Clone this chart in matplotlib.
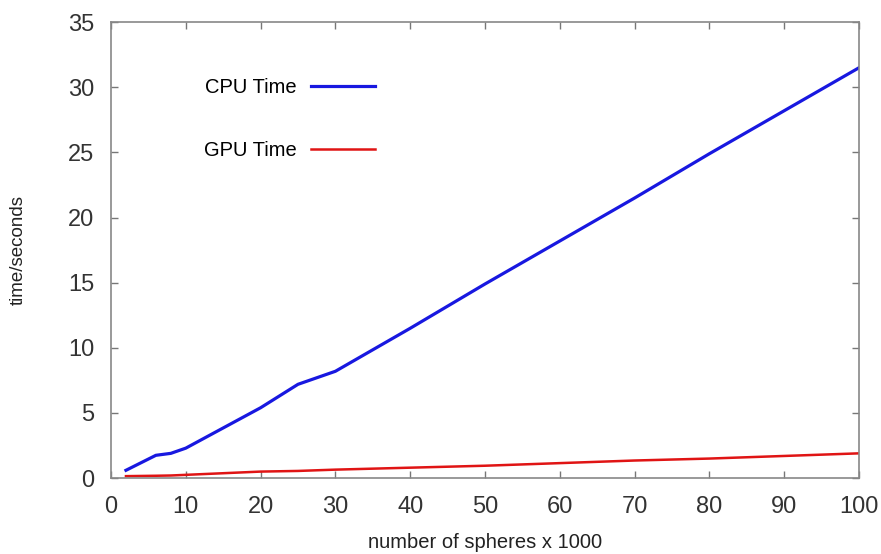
import numpy as np
import matplotlib.pyplot as plt

plt.rcParams['font.family'] = ['Liberation Sans', 'DejaVu Sans']

# data
spheres = [2, 6, 8, 10, 20, 25, 30, 40, 50, 60, 70, 80, 90, 100]
cpu_time = [0.6, 1.75, 1.9, 2.3, 5.4, 7.2, 8.2, 11.5, 14.9, 18.2, 21.5, 24.9, 28.2, 31.5]
gpu_time = [0.15, 0.18, 0.2, 0.25, 0.5, 0.55, 0.65, 0.8, 0.95, 1.15, 1.35, 1.5, 1.7, 1.9]

fig = plt.figure(figsize=(8.81, 5.54), dpi=100)
ax = fig.add_axes([0.126, 0.137, 0.849, 0.823])

ax.plot(spheres, cpu_time, color='#1818e0', lw=2.3, label='CPU Time')
ax.plot(spheres, gpu_time, color='#e01414', lw=1.8, label='GPU Time')

ax.set_xlim(0, 100)
ax.set_ylim(0, 35)
ax.set_xticks(np.arange(0, 101, 10))
ax.set_yticks(np.arange(0, 36, 5))
ax.tick_params(direction='in', top=True, right=True, length=5, width=1,
               color='#777777', labelsize=17, labelcolor='#333333')
ax.tick_params(axis='y', pad=12)
ax.tick_params(axis='x', pad=13)
for s in ax.spines.values():
    s.set_color('#888888')
    s.set_linewidth(1.2)

ax.set_xlabel('number of spheres x 1000', fontsize=14.5, color='#222222')
ax.set_ylabel('time/seconds', fontsize=13.5, color='#222222')
ax.xaxis.set_label_coords(0.5, -0.121)
ax.yaxis.set_label_coords(-0.112, 0.5)

ax.legend(loc='upper right', bbox_to_anchor=(0.377, 0.917), frameon=False,
          markerfirst=False, fontsize=14.5, handlelength=3.15, labelspacing=2.2,
          handletextpad=0.75)

fig.savefig('out.png', dpi=100)
